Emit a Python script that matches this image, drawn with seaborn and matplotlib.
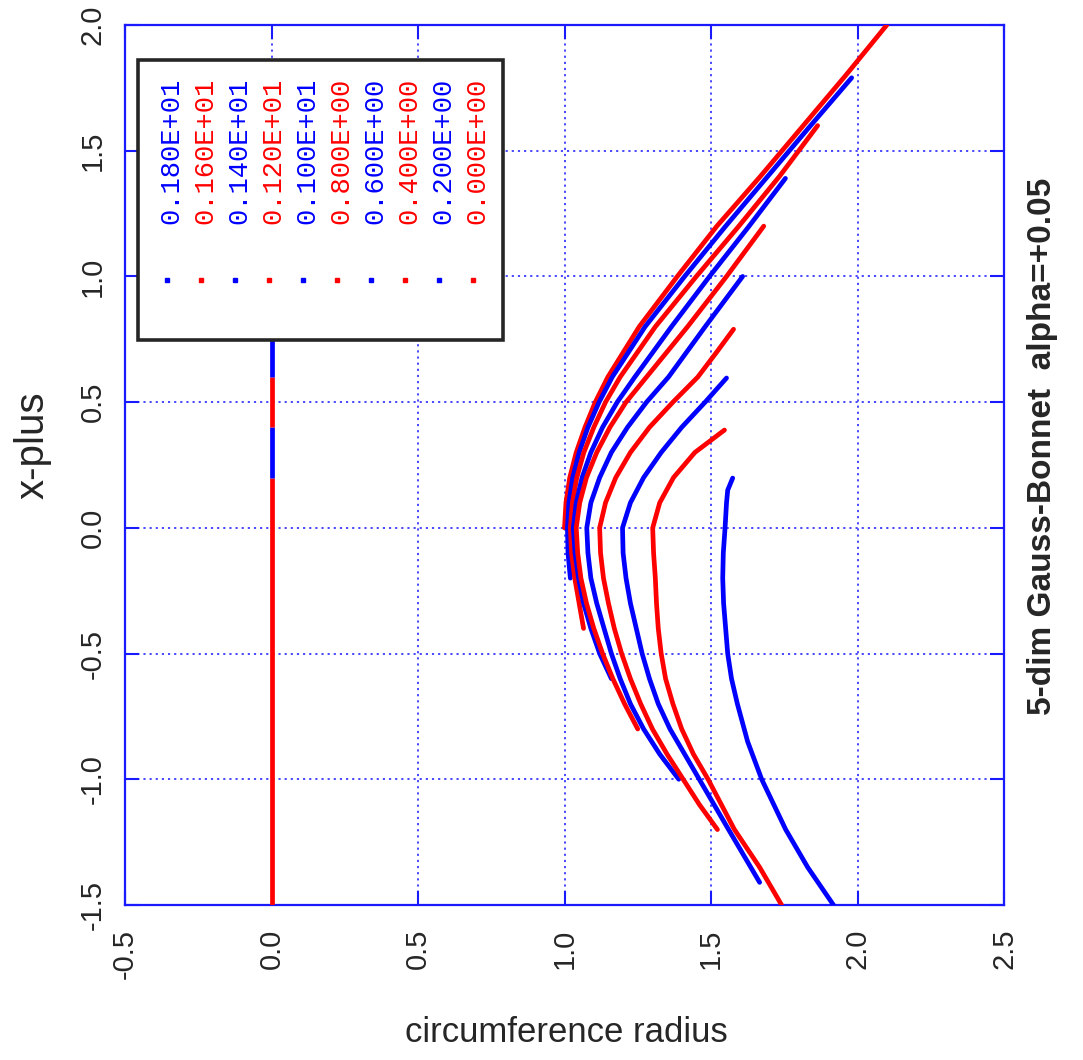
import numpy as np
import pandas as pd
import matplotlib
matplotlib.use("Agg")
import matplotlib.pyplot as plt
import seaborn as sns
from matplotlib.patches import Rectangle

# ---- data -------------------------------------------------------------
# legend labels (horizon parameter) and the colour of each series
labels = ["0.000E+00", "0.200E+00", "0.400E+00", "0.600E+00", "0.800E+00",
          "0.100E+01", "0.120E+01", "0.140E+01", "0.160E+01", "0.180E+01"]
colors = ["#ff0000", "#0000ff", "#ff0000", "#0000ff", "#ff0000",
          "#0000ff", "#ff0000", "#0000ff", "#ff0000", "#0000ff"]

# x-plus coordinate and circumference radius along each horizon
xp_00 = [0.0, 0.1, 0.2, 0.3, 0.4, 0.5, 0.6, 0.8, 1.0, 1.2, 1.4, 1.6, 1.8, 2.0]
r_00 = [1.00, 1.005, 1.018, 1.04, 1.07, 1.105, 1.148, 1.255, 1.385, 1.52,
        1.67, 1.815, 1.96, 2.10]

xp_02 = [-0.2, -0.1, 0.0, 0.1, 0.2, 0.3, 0.4, 0.5, 0.6, 0.8, 1.0, 1.2, 1.4,
         1.6, 1.79]
r_02 = [1.02, 1.012, 1.01, 1.015, 1.028, 1.05, 1.08, 1.118, 1.163, 1.275,
        1.41, 1.55, 1.695, 1.84, 1.98]

xp_04 = [-0.4, -0.3, -0.2, -0.1, 0.0, 0.1, 0.2, 0.3, 0.4, 0.5, 0.6, 0.8,
         1.0, 1.2, 1.4, 1.6]
r_04 = [1.065, 1.05, 1.035, 1.024, 1.02, 1.027, 1.042, 1.066, 1.10, 1.14,
        1.19, 1.31, 1.45, 1.595, 1.735, 1.864]

xp_06 = [-0.6, -0.5, -0.4, -0.3, -0.2, -0.1, 0.0, 0.1, 0.2, 0.3, 0.4, 0.5,
         0.6, 0.8, 1.0, 1.2, 1.39]
r_06 = [1.16, 1.12, 1.09, 1.065, 1.048, 1.036, 1.03, 1.04, 1.06, 1.09, 1.13,
        1.18, 1.24, 1.365, 1.495, 1.63, 1.754]

xp_08 = [-0.8, -0.7, -0.6, -0.5, -0.4, -0.3, -0.2, -0.1, 0.0, 0.1, 0.2, 0.3,
         0.4, 0.5, 0.6, 0.8, 1.0, 1.2]
r_08 = [1.25, 1.205, 1.165, 1.13, 1.10, 1.075, 1.056, 1.045, 1.04, 1.052,
        1.075, 1.11, 1.155, 1.21, 1.28, 1.42, 1.553, 1.68]

xp_10 = [-1.0, -0.9, -0.8, -0.7, -0.6, -0.5, -0.4, -0.3, -0.2, -0.1, 0.0,
         0.1, 0.2, 0.3, 0.4, 0.5, 0.6, 0.8, 1.0]
r_10 = [1.39, 1.325, 1.27, 1.225, 1.19, 1.16, 1.135, 1.11, 1.09, 1.08, 1.076,
        1.09, 1.12, 1.16, 1.215, 1.28, 1.355, 1.48, 1.608]

xp_12 = [-1.2, -1.1, -1.0, -0.9, -0.8, -0.7, -0.6, -0.5, -0.4, -0.3, -0.2,
         -0.1, 0.0, 0.1, 0.2, 0.3, 0.4, 0.5, 0.6, 0.7, 0.79]
r_12 = [1.522, 1.46, 1.405, 1.35, 1.30, 1.26, 1.225, 1.195, 1.17, 1.15, 1.133,
        1.123, 1.12, 1.14, 1.175, 1.225, 1.29, 1.37, 1.455, 1.52, 1.577]

xp_14 = [-1.41, -1.2, -1.0, -0.8, -0.7, -0.6, -0.5, -0.4, -0.3, -0.2, -0.1,
         0.0, 0.1, 0.2, 0.3, 0.4, 0.5, 0.596]
r_14 = [1.666, 1.56, 1.46, 1.36, 1.32, 1.29, 1.265, 1.245, 1.225, 1.21, 1.20,
        1.198, 1.225, 1.27, 1.33, 1.40, 1.48, 1.553]

xp_16 = [-1.5, -1.35, -1.2, -1.1, -1.0, -0.9, -0.8, -0.7, -0.6, -0.5, -0.4,
         -0.3, -0.2, -0.1, 0.0, 0.1, 0.2, 0.3, 0.389]
r_16 = [1.741, 1.666, 1.58, 1.535, 1.49, 1.44, 1.40, 1.37, 1.345, 1.33, 1.32,
        1.314, 1.31, 1.304, 1.301, 1.325, 1.372, 1.445, 1.546]

xp_18 = [-1.5, -1.35, -1.2, -1.0, -0.85, -0.7, -0.6, -0.5, -0.4, -0.3, -0.2,
         -0.1, 0.0, 0.1, 0.15, 0.198]
r_18 = [1.918, 1.83, 1.755, 1.673, 1.625, 1.59, 1.57, 1.557, 1.55, 1.543,
        1.54, 1.542, 1.548, 1.553, 1.557, 1.574]

xplus_series = [xp_00, xp_02, xp_04, xp_06, xp_08, xp_10, xp_12, xp_14, xp_16, xp_18]
radius_series = [r_00, r_02, r_04, r_06, r_08, r_10, r_12, r_14, r_16, r_18]

# stretches of x-plus where the radius is zero (series index, from, to)
zero_series = [0, 9, 8, 7]
zero_from = [-1.5, 0.2, 0.4, 0.6]
zero_to = [0.2, 0.4, 0.6, 1.0]

# axis ticks
r_ticks = [-0.5, 0.0, 0.5, 1.0, 1.5, 2.0, 2.5]
r_tick_labels = ["-0.5", "0.0", "0.5", "1.0", "1.5", "2.0", "2.5"]
xp_ticks = [-1.5, -1.0, -0.5, 0.0, 0.5, 1.0, 1.5, 2.0]
xp_tick_labels = ["-1.5", "-1.0", "-0.5", "0.0", "0.5", "1.0", "1.5", "2.0"]

# ---- figure -----------------------------------------------------------
sns.set_style("white")
plt.rcParams["font.family"] = ["Liberation Sans", "DejaVu Sans"]

frame_blue = "#1a1aff"

fig = plt.figure(figsize=(10.83, 10.60), dpi=100)
ax = fig.add_axes([125 / 1083, 1 - 905 / 1060, 879 / 1083, 880 / 1060])

frames = []
for lab, xs, rs in zip(labels, xplus_series, radius_series):
    frames.append(pd.DataFrame({"label": lab, "xplus": xs, "radius": rs}))
df = pd.concat(frames, ignore_index=True)

sns.lineplot(data=df, x="radius", y="xplus", hue="label",
             palette=dict(zip(labels, colors)), estimator=None, sort=False,
             legend=False, linewidth=3.4, ax=ax, zorder=3)

for s, lo, hi in zip(zero_series, zero_from, zero_to):
    ax.plot([0.0, 0.0], [lo, hi], color=colors[s], linewidth=3.4, zorder=3,
            solid_capstyle="butt")

ax.set_xlim(-0.5, 2.5)
ax.set_ylim(-1.5, 2.0)

ax.set_xticks(r_ticks, r_tick_labels)
ax.set_yticks(xp_ticks, xp_tick_labels)
for t in ax.get_xticklabels():
    t.set_rotation(90)
    t.set_ha("center")
    t.set_va("top")
for t in ax.get_yticklabels():
    t.set_rotation(90)
    t.set_ha("right")
    t.set_va("center")

ax.tick_params(axis="x", direction="in", length=10, width=1.5, color=frame_blue,
               top=True, bottom=True, labelsize=21, pad=17)
ax.tick_params(axis="y", direction="in", length=10, width=1.5, color=frame_blue,
               left=True, right=True, labelsize=21, pad=13)

ax.grid(True, color="#3a3aff", linestyle=(0, (1.2, 2.2)), linewidth=1.3)
ax.set_axisbelow(True)
for sp in ax.spines.values():
    sp.set_color(frame_blue)
    sp.set_linewidth(1.6)

ax.set_xlabel("circumference radius", fontsize=25, va="center")
ax.xaxis.set_label_coords(0.502, (905 - 1033) / 880)
ax.set_ylabel("x-plus", fontsize=29, rotation=90, va="center", ha="center")
ax.yaxis.set_label_coords((33 - 125) / 879, (905 - 445) / 880)

ax.text((1043 - 125) / 879, (905 - 446) / 880,
        "5-dim Gauss-Bonnet  alpha=+0.05", transform=ax.transAxes,
        rotation=90, ha="center", va="center", fontsize=24, fontweight="bold")

# ---- key box ----------------------------------------------------------
key_left, key_right = -0.456, 0.789
key_bottom, key_top = 0.747, 1.861
ax.add_patch(Rectangle((key_left, key_bottom), key_right - key_left,
                       key_top - key_bottom, facecolor="white",
                       edgecolor="#262626", linewidth=2.6, zorder=6))
col0, col_step = -0.343, 0.116
for k in range(len(labels)):
    i = len(labels) - 1 - k
    cx = col0 + k * col_step
    ax.text(cx, 1.789, labels[i], rotation=90, ha="center", va="top",
            color=colors[i], fontsize=19.5, family="Liberation Mono", zorder=7)
    ax.plot([cx - 0.012], [0.986], marker="s", markersize=3.2,
            color=colors[i], linestyle="none", zorder=7)

fig.savefig("out.png", dpi=100)
